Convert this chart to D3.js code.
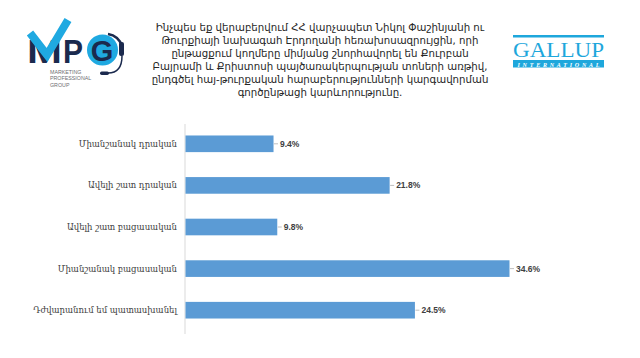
<!DOCTYPE html>
<html><head><meta charset="utf-8">
<script src="https://cdn.jsdelivr.net/npm/d3@7"></script>
<style>
html,body{margin:0;padding:0;background:#fff;}
svg{display:block;}
</style></head>
<body>
<svg id="c" width="640" height="358"></svg>
<script>
const titleLines = [
  "Ինչպես եք վերաբերվում ՀՀ վարչապետ Նիկոլ Փաշինյանի ու",
  "Թուրքիայի նախագահ Էրդողանի հեռախոսազրույցին, որի",
  "ընթացքում կողմերը  միմյանց շնորհավորել են Քուրբան",
  "Բայրամի և Քրիստոսի պայծառակերպության տոների առթիվ,",
  "ընդգծել հայ-թուրքական հարաբերությունների կարգավորման",
  "գործընթացի կարևորությունը."
];
const categories = [
  "Միանշանակ դրական",
  "Ավելի շատ դրական",
  "Ավելի շատ բացասական",
  "Միանշանակ բացասական",
  "Դժվարանում եմ պատասխանել"
];
const values = [9.4, 21.8, 9.8, 34.6, 24.5];
const logoSubLines = ["MARKETING", "PROFESSIONAL", "GROUP"];

const svg = d3.select("#c");

// Title
const title = svg.append("text")
  .attr("x", 320).attr("y", 31)
  .attr("text-anchor", "middle")
  .attr("font-family", "DejaVu Sans")
  .attr("font-size", 10.2)
  .attr("fill", "#262626");
titleLines.forEach((t, i) => {
  title.append("tspan").attr("x", 320).attr("dy", i === 0 ? 0 : 13).text(t);
});

// Chart
const x = d3.scaleLinear().domain([0, 34.6]).range([185, 509]);
const y = d3.scaleBand().domain(categories).range([123, 331]).paddingInner(0.6).paddingOuter(0.3);

const g = svg.append("g");
g.append("line")
  .attr("x1", x(0)).attr("x2", x(0))
  .attr("y1", 124).attr("y2", 334)
  .attr("stroke", "#d9d9d9").attr("stroke-width", 1);

g.selectAll("rect.bar").data(values).join("rect")
  .attr("class", "bar")
  .attr("x", x(0) + 0.5)
  .attr("y", (d, i) => y(categories[i]))
  .attr("width", d => x(d) - x(0))
  .attr("height", y.bandwidth())
  .attr("fill", "#5b9bd5");

g.selectAll("line.lead").data(values).join("line")
  .attr("class", "lead")
  .attr("x1", d => x(d) + 1).attr("x2", d => x(d) + 5)
  .attr("y1", (d, i) => y(categories[i]) + y.bandwidth() / 2)
  .attr("y2", (d, i) => y(categories[i]) + y.bandwidth() / 2)
  .attr("stroke", "#bfbfbf").attr("stroke-width", 1);

g.selectAll("text.val").data(values).join("text")
  .attr("class", "val")
  .attr("x", d => x(d) + 7)
  .attr("y", (d, i) => y(categories[i]) + y.bandwidth() / 2)
  .attr("dy", "0.35em")
  .attr("font-family", "Liberation Sans, Arial, sans-serif")
  .attr("font-size", 8.5)
  .attr("font-weight", "bold")
  .attr("fill", "#404040")
  .text(d => d.toFixed(1) + "%");

g.selectAll("text.cat").data(categories).join("text")
  .attr("class", "cat")
  .attr("x", 177)
  .attr("y", d => y(d) + y.bandwidth() / 2)
  .attr("dy", "0.35em")
  .attr("text-anchor", "end")
  .attr("font-family", "DejaVu Serif")
  .attr("font-size", 8.5)
  .attr("fill", "#404040")
  .text(d => d);

// MPG logo
const navy = "#1b2a4e", cyan = "#1fa9e1";
const lg = svg.append("g");
lg.append("text").attr("x", 27).attr("y", 63)
  .attr("font-family", "Liberation Sans, Arial").attr("font-weight", "bold")
  .attr("font-size", 34).attr("fill", navy)
  .attr("textLength", 35).attr("lengthAdjust", "spacingAndGlyphs").text("M");
lg.append("path").attr("d", "M30,33 L47,55 L68,20")
  .attr("fill", "none").attr("stroke", cyan).attr("stroke-width", 8)
  .attr("stroke-linejoin", "miter").attr("stroke-linecap", "butt");
lg.append("text").attr("x", 63).attr("y", 63)
  .attr("font-family", "Liberation Sans, Arial").attr("font-weight", "bold")
  .attr("font-size", 34).attr("fill", navy)
  .attr("textLength", 20).attr("lengthAdjust", "spacingAndGlyphs").text("P");
lg.append("circle").attr("cx", 102.5).attr("cy", 50).attr("r", 15.5).attr("fill", cyan);
lg.append("text").attr("x", 102).attr("y", 60.5).attr("text-anchor", "middle")
  .attr("font-family", "Liberation Sans, Arial").attr("font-weight", "bold")
  .attr("font-size", 29).attr("fill", navy).text("G");
lg.append("path").attr("d", "M108,34 A18,18 0 0 1 122,46").attr("fill", "none").attr("stroke", navy).attr("stroke-width", 2.5);
lg.append("rect").attr("x", 119).attr("y", 42).attr("width", 5).attr("height", 14).attr("rx", 2).attr("fill", navy);
lg.append("path").attr("d", "M122,56 Q122,73 108,73").attr("fill", "none").attr("stroke", navy).attr("stroke-width", 1.5);
lg.append("rect").attr("x", 100).attr("y", 71.5).attr("width", 9).attr("height", 3.5).attr("rx", 1.7).attr("fill", navy);
logoSubLines.forEach((t, i) => {
  lg.append("text").attr("x", 50).attr("y", 74 + i * 6.3)
    .attr("font-family", "Liberation Sans, Arial").attr("font-size", 5.3)
    .attr("fill", "#6d6e71").text(t);
});

// Gallup logo
const gb = "#1ea7dc";
const gl = svg.append("g");
gl.append("rect").attr("x", 513).attr("y", 35).attr("width", 91).attr("height", 2.5).attr("fill", gb);
gl.append("text").attr("x", 558.5).attr("y", 56.5).attr("text-anchor", "middle")
  .attr("font-family", "Liberation Serif, Times New Roman, serif")
  .attr("font-size", 20).attr("fill", gb)
  .attr("textLength", 91).attr("lengthAdjust", "spacingAndGlyphs").text("GALLUP");
gl.append("rect").attr("x", 513).attr("y", 60).attr("width", 91).attr("height", 7.5).attr("fill", gb);
gl.append("text").attr("x", 558.5).attr("y", 66.5).attr("text-anchor", "middle")
  .attr("font-family", "Liberation Serif, serif").attr("font-style", "italic").attr("font-weight", "bold")
  .attr("font-size", 6).attr("fill", "#fff")
  .attr("textLength", 82).attr("lengthAdjust", "spacing").text("INTERNATIONAL");
</script>
</body></html>
